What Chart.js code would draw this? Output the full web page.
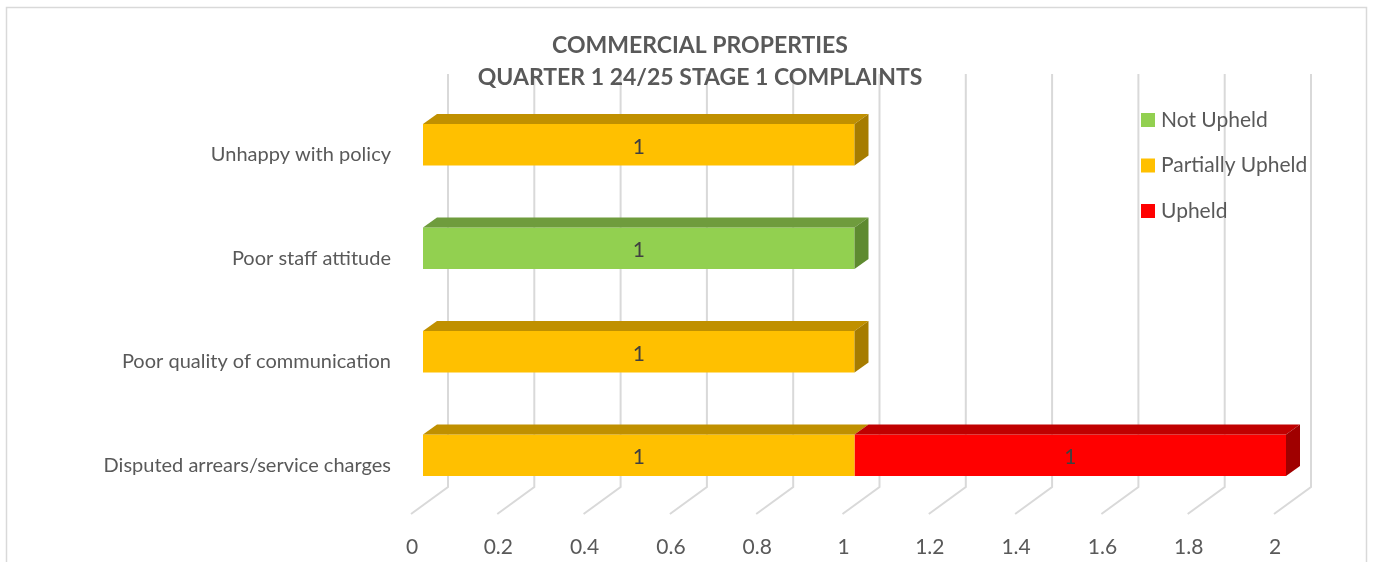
<!DOCTYPE html>
<html>
<head>
<meta charset="utf-8">
<script src="https://cdn.jsdelivr.net/npm/chart.js@4.4.1/dist/chart.umd.min.js"></script>
<style>
  html, body { margin: 0; padding: 0; background: #fff; }
  #wrap { position: relative; width: 1373px; height: 562px; }
</style>
</head>
<body>
<div id="wrap"><canvas id="chart"></canvas></div>
<script>
const categories = [
  "Unhappy with policy",
  "Poor staff attitude",
  "Poor quality of communication",
  "Disputed arrears/service charges"
];
const notUpheld = [0, 1, 0, 0];
const partiallyUpheld = [1, 0, 1, 1];
const upheld = [0, 0, 0, 1];
const xTickValues = [0, 0.2, 0.4, 0.6, 0.8, 1, 1.2, 1.4, 1.6, 1.8, 2];
const titleLines = ["COMMERCIAL PROPERTIES", "QUARTER 1 24/25 STAGE 1 COMPLAINTS"];

const FONT = "Lato, 'Open Sans', sans-serif";
const textColor = "#595959";
const gridColor = "#d9d9d9";

// 3d look: bar depth and floor/back wall offsets
const BAR_DX = 14, BAR_DY = -10;
const BACK_DX = 25, FRONT_DX = -12;
const GRID_TOP = 74, GRID_BEND = 487, GRID_FLOOR = 514;

const excel3d = {
  id: "excel3d",
  beforeDraw(chart) {
    const ctx = chart.ctx;
    ctx.save();
    ctx.fillStyle = "#fff";
    ctx.fillRect(0, 0, chart.width, chart.height);
    ctx.strokeStyle = gridColor;
    ctx.lineWidth = 1.5;
    ctx.strokeRect(6.5, 7.5, chart.width - 13, chart.height + 20);
    ctx.restore();
  },
  beforeDatasetsDraw(chart) {
    const ctx = chart.ctx;
    const xs = chart.scales.x;
    ctx.save();
    ctx.strokeStyle = gridColor;
    ctx.lineWidth = 2;
    xTickValues.forEach(v => {
      const px = xs.getPixelForValue(v);
      ctx.beginPath();
      ctx.moveTo(px + BACK_DX, GRID_TOP);
      ctx.lineTo(px + BACK_DX, GRID_BEND);
      ctx.lineTo(px + FRONT_DX, GRID_FLOOR);
      ctx.stroke();
    });
    // title over the gridlines
    ctx.fillStyle = textColor;
    ctx.font = "bold 23px " + FONT;
    ctx.textAlign = "center";
    ctx.textBaseline = "middle";
    ctx.fillText(titleLines[0], 700, 46);
    ctx.fillText(titleLines[1], 700, 78);
    ctx.restore();
  },
  afterDatasetsDraw(chart) {
    const ctx = chart.ctx;
    ctx.save();
    categories.forEach((c, i) => {
      const segs = [];
      chart.data.datasets.forEach((ds, d) => {
        if (!ds.data[i]) return;
        const el = chart.getDatasetMeta(d).data[i];
        segs.push({ el, ds, value: ds.data[i] });
      });
      segs.sort((a, b) => a.el.base - b.el.base);
      segs.forEach((s, k) => {
        const { x, y, base, height } = s.el;
        const top = y - height / 2, bottom = y + height / 2;
        ctx.fillStyle = s.ds.topColor;
        ctx.beginPath();
        ctx.moveTo(base, top);
        ctx.lineTo(base + BAR_DX, top + BAR_DY);
        ctx.lineTo(x + BAR_DX, top + BAR_DY);
        ctx.lineTo(x, top);
        ctx.closePath();
        ctx.fill();
        if (k === segs.length - 1) {
          ctx.fillStyle = s.ds.sideColor;
          ctx.beginPath();
          ctx.moveTo(x, top);
          ctx.lineTo(x + BAR_DX, top + BAR_DY);
          ctx.lineTo(x + BAR_DX, bottom + BAR_DY);
          ctx.lineTo(x, bottom);
          ctx.closePath();
          ctx.fill();
        }
        ctx.fillStyle = "#404040";
        ctx.font = "21px " + FONT;
        ctx.textAlign = "center";
        ctx.textBaseline = "middle";
        ctx.fillText(String(s.value), (x + base) / 2, y + 2);
      });
    });
    ctx.restore();
  },
  afterDraw(chart) {
    const ctx = chart.ctx;
    ctx.save();
    ctx.font = "21px " + FONT;
    ctx.textBaseline = "middle";
    ctx.textAlign = "left";
    chart.data.datasets.forEach((ds, d) => {
      const cy = 120 + d * 45.5;
      ctx.fillStyle = ds.backgroundColor;
      ctx.fillRect(1141, cy - 7, 14, 14);
      ctx.fillStyle = textColor;
      ctx.fillText(ds.label, 1161, cy);
    });
    ctx.restore();
  }
};

new Chart(document.getElementById("chart"), {
  type: "bar",
  data: {
    labels: categories,
    datasets: [
      { label: "Not Upheld", data: notUpheld, backgroundColor: "#92d050", topColor: "#6f9c3d", sideColor: "#5e8a30" },
      { label: "Partially Upheld", data: partiallyUpheld, backgroundColor: "#ffc000", topColor: "#c09000", sideColor: "#a67c00" },
      { label: "Upheld", data: upheld, backgroundColor: "#ff0000", topColor: "#c00000", sideColor: "#a00000" }
    ]
  },
  plugins: [excel3d],
  options: {
    indexAxis: "y",
    responsive: true,
    maintainAspectRatio: false,
    animation: false,
    layout: { padding: { top: 93, right: 87, left: 0, bottom: 0 } },
    datasets: { bar: { categoryPercentage: 1, barPercentage: 0.4, borderWidth: 0 } },
    plugins: {
      legend: { display: false },
      title: { display: false },
      tooltip: { enabled: false }
    },
    scales: {
      x: {
        stacked: true,
        min: 0,
        max: 2,
        afterBuildTicks: s => { s.ticks = xTickValues.map(v => ({ value: v })); },
        afterFit: s => { s.height = 55; },
        grid: { display: false, drawTicks: false },
        border: { display: false },
        ticks: {
          color: textColor,
          font: { family: FONT, size: 21 },
          padding: 28,
          labelOffset: -11,
          maxRotation: 0,
          autoSkip: false,
          callback: v => String(Math.round(v * 10) / 10)
        }
      },
      y: {
        stacked: true,
        afterFit: s => { s.width = 423; },
        grid: { display: false, drawTicks: false },
        border: { display: false },
        ticks: {
          color: textColor,
          font: { family: FONT, size: 20 },
          padding: 32,
          labelOffset: 10
        }
      }
    }
  }
});
</script>
</body>
</html>
